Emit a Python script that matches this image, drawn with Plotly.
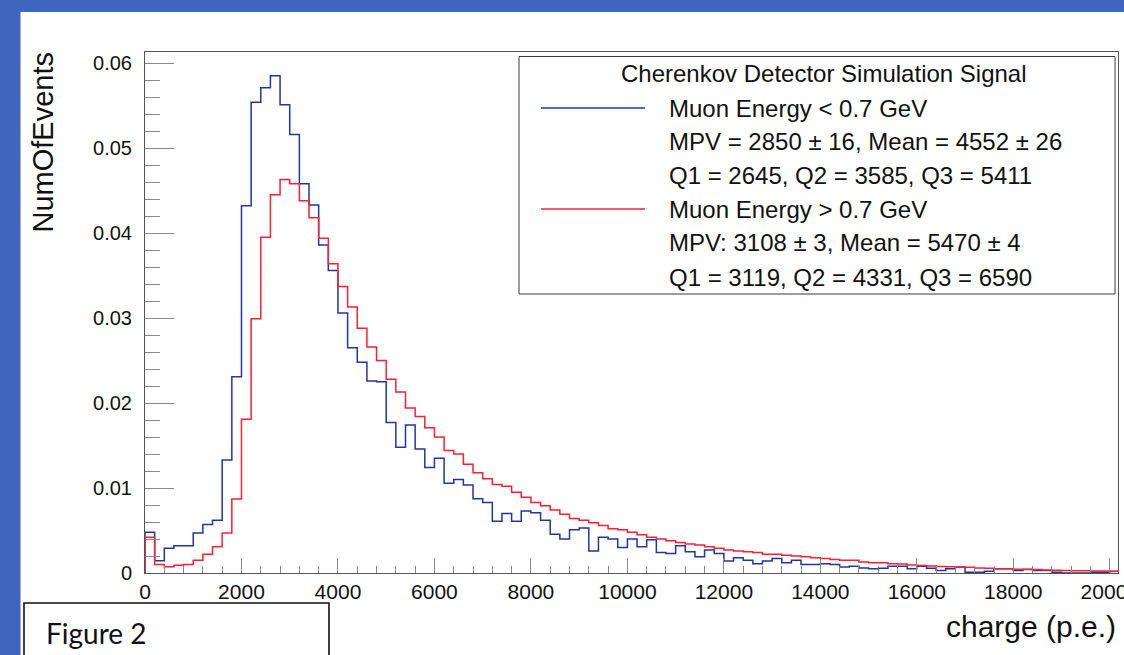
import plotly.graph_objects as go

# ---------------- data ----------------
BIN_W = 200.0
BIN_LO = 0.0

blue_vals = [
    0.0048, 0.00145, 0.0029, 0.0032, 0.0032, 0.0047, 0.0057, 0.0062, 0.0133, 0.0231,
    0.0432, 0.0554, 0.0571, 0.0585, 0.0551, 0.0516, 0.0458, 0.0433, 0.0386, 0.0356,
    0.0306, 0.0265, 0.0248, 0.0226, 0.0225, 0.0177, 0.0148, 0.0174, 0.0146, 0.0124,
    0.0135, 0.01055, 0.0110, 0.01035, 0.00875, 0.0083, 0.0061, 0.0070, 0.0061, 0.0073,
    0.0071, 0.0062, 0.00455, 0.0040, 0.0051, 0.0053, 0.0026, 0.0042, 0.0040, 0.0030,
    0.0040, 0.0031, 0.0039, 0.0024, 0.0023, 0.0032, 0.0025, 0.0019, 0.0027, 0.0023,
    0.0014, 0.0018, 0.0015, 0.0011, 0.0014, 0.0017, 0.0012, 0.0015, 0.0010, 0.0010,
    0.0011, 0.0010, 0.0007, 0.0008, 0.0006, 0.0005, 0.00055, 0.0008, 0.0008, 0.0005,
    0.0008, 0.00055, 0.0003, 0.0005, 0.0007, 0.0001, 0.0001, 0.0002, 0.0005, 0.0005,
    0.0003, 0.0004, 0.0003, 0.0003, 0.0001, 0.0, 0.0, 0.0, 0.0001, 0.0001,
    0.0002,
]

red_vals = [
    0.0042, 0.0010, 0.00075, 0.0009, 0.0010, 0.0015, 0.0022, 0.0031, 0.0047, 0.0087,
    0.0181, 0.0299, 0.0395, 0.0445, 0.0463, 0.0458, 0.0438, 0.0418, 0.0394, 0.0364,
    0.0337, 0.0313, 0.0288, 0.0266, 0.0250, 0.0228, 0.0213, 0.0194, 0.0184, 0.0171,
    0.0160, 0.0144, 0.0140, 0.0128, 0.0118, 0.0111, 0.0104, 0.0102, 0.0095, 0.0089,
    0.0083, 0.0079, 0.0074, 0.0069, 0.0064, 0.0062, 0.0059, 0.0056, 0.0052, 0.0051,
    0.0048, 0.0045, 0.0042, 0.0040, 0.0038, 0.0036, 0.0034, 0.0033, 0.0031, 0.0029,
    0.0027, 0.0026, 0.0025, 0.0024, 0.0022, 0.0022, 0.0021, 0.0020, 0.0019, 0.0018,
    0.0017, 0.0016, 0.0015, 0.0015, 0.0013, 0.0012, 0.0012, 0.0011, 0.00105, 0.00095,
    0.00087, 0.00082, 0.00077, 0.00075, 0.0007, 0.00067, 0.00058, 0.00055, 0.0005, 0.0005,
    0.00045, 0.00043, 0.0004, 0.00035, 0.00032, 0.0003, 0.00027, 0.00027, 0.00025, 0.00024,
    0.00018,
]

x_tick_vals = [0, 2000, 4000, 6000, 8000, 10000, 12000, 14000, 16000, 18000, 20000]
x_tick_text = ["0", "2000", "4000", "6000", "8000", "10000", "12000", "14000", "16000", "18000", "20000"]
y_tick_vals = [0, 0.01, 0.02, 0.03, 0.04, 0.05, 0.06]
y_tick_text = ["0", "0.01", "0.02", "0.03", "0.04", "0.05", "0.06"]

legend_title = "Cherenkov Detector Simulation Signal"
blue_lines = ["Muon Energy < 0.7 GeV",
              "MPV = 2850 ± 16, Mean = 4552 ± 26",
              "Q1 = 2645, Q2 = 3585, Q3 = 5411"]
red_lines = ["Muon Energy > 0.7 GeV",
             "MPV: 3108 ± 3, Mean = 5470 ± 4",
             "Q1 = 3119, Q2 = 4331, Q3 = 6590"]
x_title = "charge (p.e.)"
y_title = "NumOfEvents"
figure_label = "Figure 2"

X_MAX = 20170
Y_MAX = 0.0613

# ---------------- layout geometry (pixels) ----------------
W, H = 1124, 655
L, R, T, B = 145, 1118, 52, 573

def px(x):
    return (x - L) / (R - L)

def py(y):
    return (B - y) / (B - T)

BLUE = "#2235a3"
RED = "#ff1f33"
FONT = "Liberation Sans, Arial, Helvetica, sans-serif"
SLIDE_BLUE = "#3e66bf"


def step_xy(vals):
    edges = [BIN_LO + i * BIN_W for i in range(len(vals) + 1)]
    xs = [edges[0]] + edges
    ys = [0.0] + list(vals) + [vals[-1]]
    return xs, ys


fig = go.Figure()
for vals, col in ((blue_vals, BLUE), (red_vals, RED)):
    xs, ys = step_xy(vals)
    fig.add_trace(go.Scatter(x=xs, y=ys, mode="lines", line_shape="hv",
                             line=dict(color=col, width=1.5), showlegend=False,
                             hoverinfo="skip"))

shapes = [
    # slide background strips
    dict(type="rect", xref="paper", yref="paper", x0=px(0), x1=px(20.5), y0=py(0), y1=py(H + 5),
         fillcolor=SLIDE_BLUE, line=dict(width=0), layer="below"),
    dict(type="rect", xref="paper", yref="paper", x0=px(0), x1=px(W + 5), y0=py(0), y1=py(12),
         fillcolor=SLIDE_BLUE, line=dict(width=0), layer="below"),
    # legend box
    dict(type="rect", xref="paper", yref="paper", x0=px(519), x1=px(1115), y0=py(294), y1=py(56.5),
         fillcolor="white", line=dict(color="#3a3a3a", width=1), layer="above"),
    dict(type="line", xref="paper", yref="paper", x0=px(541), x1=px(645), y0=py(108), y1=py(108),
         line=dict(color=BLUE, width=1.4)),
    dict(type="line", xref="paper", yref="paper", x0=px(541), x1=px(645), y0=py(209), y1=py(209),
         line=dict(color=RED, width=1.4)),
    # Figure 2 box
    dict(type="rect", xref="paper", yref="paper", x0=px(24), x1=px(329), y0=py(H + 10), y1=py(603),
         fillcolor="white", line=dict(color="#111111", width=1.6)),
]

annotations = [
    dict(text=legend_title, x=px(824), y=py(73), xref="paper", yref="paper", xanchor="center",
         yanchor="middle", showarrow=False, font=dict(family=FONT, size=24, color="#111")),
]
ys_text = [108, 141, 175, 209, 243, 277]
for t, yy in zip(blue_lines + red_lines, ys_text):
    annotations.append(dict(text=t, x=px(667), y=py(yy), xref="paper", yref="paper",
                            xanchor="left", yanchor="middle", showarrow=False,
                            font=dict(family=FONT, size=24, color="#111")))
annotations += [
    dict(text=x_title, x=px(1118), y=py(626), xref="paper", yref="paper", xanchor="right",
         yanchor="middle", showarrow=False, font=dict(family=FONT, size=30, color="#111")),
    dict(text=y_title, x=px(43), y=py(50), xref="paper", yref="paper", xanchor="center",
         yanchor="top", textangle=-90, showarrow=False,
         font=dict(family=FONT, size=29, color="#111")),
    dict(text=figure_label, x=px(44), y=py(633), xref="paper", yref="paper", xanchor="left",
         yanchor="middle", showarrow=False, font=dict(family="Lato, Open Sans, sans-serif", size=28, color="#111")),
]

fig.update_layout(
    width=W, height=H,
    margin=dict(l=L, r=W - R, t=T, b=H - B, pad=0, autoexpand=False),
    paper_bgcolor="white", plot_bgcolor="white",
    shapes=shapes, annotations=annotations,
    showlegend=False,
    font=dict(family=FONT, color="#111"),
)
fig.update_xaxes(range=[0, X_MAX], showgrid=False, zeroline=False, automargin=False,
                 showline=True, linecolor="#555", linewidth=1, mirror=True,
                 ticks="inside", ticklen=15, tickcolor="#888", tickwidth=1,
                 tickmode="array", tickvals=x_tick_vals, ticktext=x_tick_text,
                 ticklabeloverflow="allow",
                 tickfont=dict(family=FONT, size=21, color="#111"),
                 minor=dict(ticks="inside", ticklen=7, dtick=400, tick0=0, tickcolor="#888", showgrid=False))
fig.update_yaxes(range=[0, Y_MAX], showgrid=False, zeroline=False, automargin=False,
                 showline=True, linecolor="#555", linewidth=1, mirror=True,
                 ticks="inside", ticklen=29, tickcolor="#888", tickwidth=1,
                 tickmode="array", tickvals=y_tick_vals, ticktext=y_tick_text,
                 ticklabelstandoff=8,
                 tickfont=dict(family=FONT, size=20, color="#111"),
                 minor=dict(ticks="inside", ticklen=15, dtick=0.002, tick0=0, tickcolor="#888", showgrid=False))

fig.write_html("out.html")
